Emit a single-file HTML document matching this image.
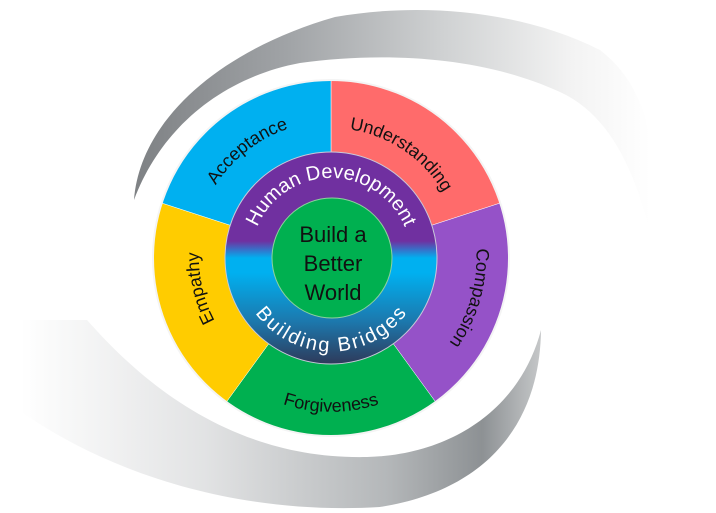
<!DOCTYPE html>
<html><head><meta charset="utf-8"><style>
html,body{margin:0;padding:0;background:#fff;width:716px;height:513px;overflow:hidden}
svg{display:block}
text{font-family:"Liberation Sans",sans-serif}
</style></head><body>
<svg width="716" height="513" viewBox="0 0 716 513" xmlns="http://www.w3.org/2000/svg">
<defs>
<linearGradient id="gt" x1="130" y1="0" x2="650" y2="0" gradientUnits="userSpaceOnUse">
<stop offset="0" stop-color="#7d8083"/><stop offset="0.3" stop-color="#a0a3a6"/><stop offset="0.6" stop-color="#cfd1d2"/><stop offset="0.85" stop-color="#f3f3f3"/><stop offset="1" stop-color="#ffffff"/></linearGradient>
<linearGradient id="gb" x1="20" y1="0" x2="545" y2="0" gradientUnits="userSpaceOnUse">
<stop offset="0" stop-color="#ffffff"/><stop offset="0.35" stop-color="#e2e3e4"/><stop offset="0.7" stop-color="#b4b7b9"/><stop offset="0.88" stop-color="#8d9194"/><stop offset="1" stop-color="#c9cbcc"/></linearGradient>
<linearGradient id="gr" x1="0" y1="152" x2="0" y2="364" gradientUnits="userSpaceOnUse">
<stop offset="0" stop-color="#7030a0"/><stop offset="0.42" stop-color="#7030a0"/><stop offset="0.5" stop-color="#00b0f0"/><stop offset="0.57" stop-color="#00b0f0"/><stop offset="0.8" stop-color="#1c78ad"/><stop offset="1" stop-color="#2e3a5a"/></linearGradient>
<path id="c130" d="M201.5,246.7 A130 130 0 0 1 460.5,246.7"/>
<path id="c136" d="M195.5,246.1 A136 136 0 0 1 466.5,246.1"/>
<path id="c132" d="M199.5,246.5 A132 132 0 0 1 462.5,246.5"/>
<path id="c146" d="M185.6,245.3 A146 146 0 0 1 476.4,245.3"/>
<path id="c80" d="M251.3,251 A80 80 0 0 1 410.7,251"/>
<path id="f154" d="M177.6,271.4 A154 154 0 0 0 484.4,271.4"/>
<path id="b94" d="M237.4,266.2 A94 94 0 0 0 424.6,266.2"/>
</defs>
<path d="M134,200 C140,120 220,50 335,17 C420,2 520,10 600,50 C645,85 660,140 652,240 C635,170 610,115 560,92 C480,55 380,52 300,63 C220,78 160,130 134,200 Z" fill="url(#gt)"/>
<path d="M23,320 L87,320 C140,380 230,460 367,457 C450,455 520,410 541,330 C540,420 490,490 380,507 C250,515 120,480 23,413 Z" fill="url(#gb)"/>
<g stroke="#fff" stroke-width="0.5">
<path d="M331,258 L331,80 A178 178 0 0 1 500.3,203 Z" fill="#ff6b6b"/>
<path d="M331,258 L500.3,203 A178 178 0 0 1 435.6,402 Z" fill="#9552c8"/>
<path d="M331,258 L435.6,402 A178 178 0 0 1 226.4,402 Z" fill="#00b050"/>
<path d="M331,258 L226.4,402 A178 178 0 0 1 161.7,203 Z" fill="#ffcc00"/>
<path d="M331,258 L161.7,203 A178 178 0 0 1 331,80 Z" fill="#00b0f0"/>
</g>
<circle cx="331" cy="258" r="178" fill="none" stroke="#f4f4f4" stroke-width="2"/>
<circle cx="331" cy="258" r="106" fill="url(#gr)" stroke="#c9c9d9" stroke-width="1"/>
<circle cx="332" cy="258" r="60" fill="#00b050" stroke="#8fd19e" stroke-width="1"/>
<g font-size="18" fill="#111">
<text transform="rotate(-38 331 258)"><textPath href="#c136" startOffset="50%" text-anchor="middle">Acceptance</textPath></text>
<text transform="rotate(34 331 258)"><textPath href="#c130" startOffset="50%" text-anchor="middle">Understanding</textPath></text>
<text transform="rotate(106 331 258)"><textPath href="#c146" startOffset="50%" text-anchor="middle">Compassion</textPath></text>
<text transform="rotate(-103 331 258)"><textPath href="#c132" startOffset="50%" text-anchor="middle">Empathy</textPath></text>
<text><textPath href="#f154" startOffset="50%" text-anchor="middle">Forgiveness</textPath></text>
</g>
<g font-size="20" fill="#fff">
<text><textPath href="#c80" startOffset="50%" text-anchor="middle" textLength="188" lengthAdjust="spacing">Human Development</textPath></text>
<text><textPath href="#b94" startOffset="50%" text-anchor="middle" textLength="176" lengthAdjust="spacing">Building Bridges</textPath></text>
</g>
<g font-size="22" fill="#111" text-anchor="middle">
<text x="333" y="242">Build a</text>
<text x="333" y="271">Better</text>
<text x="333" y="300">World</text>
</g>
</svg>
</body></html>
